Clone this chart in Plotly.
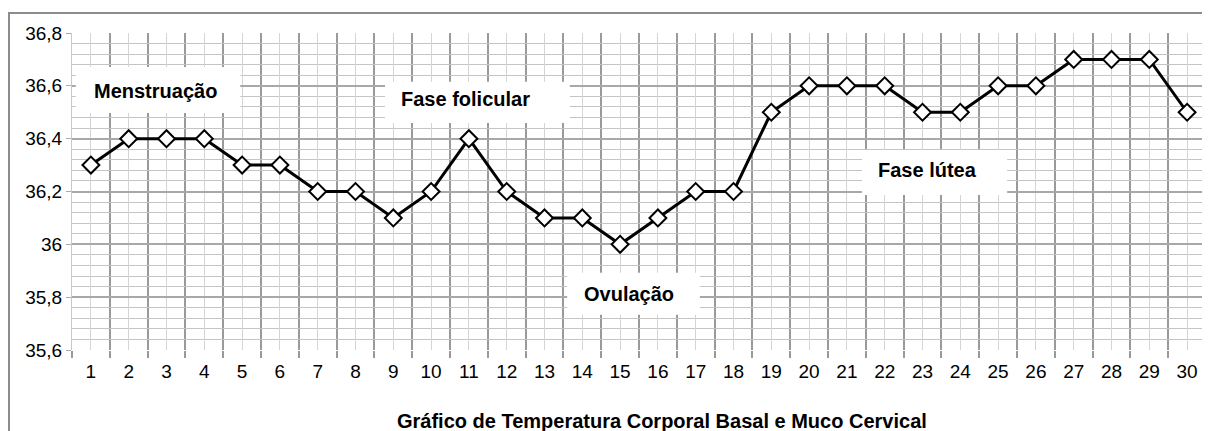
import plotly.graph_objects as go

days = list(range(1, 31))
temps = [36.3, 36.4, 36.4, 36.4, 36.3, 36.3, 36.2, 36.2, 36.1, 36.2,
         36.4, 36.2, 36.1, 36.1, 36.0, 36.1, 36.2, 36.2, 36.5, 36.6,
         36.6, 36.6, 36.5, 36.5, 36.6, 36.6, 36.7, 36.7, 36.7, 36.5]
y_tickvals = [35.6, 35.8, 36.0, 36.2, 36.4, 36.6, 36.8]
y_ticktext = ["35,6", "35,8", "36", "36,2", "36,4", "36,6", "36,8"]
phase_labels = ["Menstruação", "Fase folicular", "Fase lútea", "Ovulação"]
phase_text_pos = [(2.72, 36.58), (10.92, 36.55), (23.12, 36.281), (15.24, 35.812)]
phase_boxes = [(0.6, 4.95, 36.497, 36.671), (8.78, 13.67, 36.459, 36.615),
               (21.40, 25.24, 36.187, 36.357), (13.60, 17.11, 35.733, 35.892)]
title_text = "Gráfico de Temperatura Corporal Basal e Muco Cervical"

# page body has an 8px margin, so the figure is 8px smaller and offset
W, H = 1202, 423
ML, MR, MT, MB = 64, 4, 25, 81
PW, PH = W - ML - MR, H - MT - MB

fig = go.Figure()
fig.add_trace(go.Scatter(
    x=days, y=temps, mode="lines+markers",
    line=dict(color="black", width=3),
    marker=dict(symbol="diamond", size=13, color="white",
                line=dict(color="black", width=2)),
    showlegend=False, cliponaxis=False))

shapes = []
for (x0, x1, y0, y1) in phase_boxes:
    shapes.append(dict(type="rect", xref="x", yref="y", x0=x0, x1=x1, y0=y0, y1=y1,
                       fillcolor="white", line=dict(width=0), layer="between"))
# outer frame
shapes.append(dict(type="rect", xref="paper", yref="paper",
                   x0=(1 - ML) / PW, x1=(W + 10 - ML) / PW,
                   y0=-(MB + 10) / PH, y1=1 + (MT - 5) / PH,
                   line=dict(color="#8c8c8c", width=2), fillcolor="rgba(0,0,0,0)",
                   layer="above"))

annotations = []
for lab, (x, y) in zip(phase_labels, phase_text_pos):
    annotations.append(dict(x=x, y=y, xref="x", yref="y", text="<b>" + lab + "</b>",
                            showarrow=False,
                            font=dict(family="Liberation Sans, Arial", size=20, color="black")))
annotations.append(dict(x=(662 - 8 - ML) / PW, y=-(421 - 8 - (MT + PH)) / PH,
                        xref="paper", yref="paper", text="<b>" + title_text + "</b>",
                        showarrow=False, yanchor="middle",
                        font=dict(family="Liberation Sans, Arial", size=20, color="black")))

fig.update_layout(
    width=W, height=H,
    margin=dict(l=ML, r=MR, t=MT, b=MB),
    paper_bgcolor="white", plot_bgcolor="white",
    shapes=shapes, annotations=annotations,
    xaxis=dict(range=[0.5, 30.5], tickvals=days, ticktext=[str(d) for d in days],
               showgrid=True, gridcolor="#d4d4d4", gridwidth=1,
               ticks="", showline=False, zeroline=False, ticklabelstandoff=8,
               tickfont=dict(family="Liberation Sans, Arial", size=19, color="black"),
               minor=dict(tick0=0.5, dtick=1, showgrid=True, gridcolor="#9a9a9a",
                          gridwidth=1.5, ticks="outside", ticklen=7, tickcolor="#9a9a9a",
                          tickwidth=1.5)),
    yaxis=dict(range=[35.6, 36.8], tickvals=y_tickvals, ticktext=y_ticktext,
               showgrid=True, gridcolor="#a8a8a8", gridwidth=1.5,
               ticks="outside", ticklen=5, tickcolor="#aaaaaa",
               showline=True, linecolor="#c8c8c8", zeroline=False,
               tickfont=dict(family="Liberation Sans, Arial", size=19, color="black"),
               minor=dict(dtick=0.04, tick0=35.6, showgrid=True, gridcolor="#c4c4c4",
                          gridwidth=1)),
)
fig.write_html("out.html")
